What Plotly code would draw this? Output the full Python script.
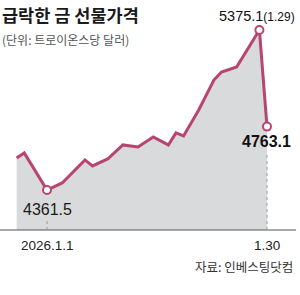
import plotly.graph_objects as go
import pandas as pd

# ---- data ----
dates = ["2025-12-28", "2025-12-29", "2026-01-01", "2026-01-03", "2026-01-06",
         "2026-01-07", "2026-01-09", "2026-01-11", "2026-01-13", "2026-01-15",
         "2026-01-17", "2026-01-18", "2026-01-19", "2026-01-21", "2026-01-23",
         "2026-01-24", "2026-01-26", "2026-01-29", "2026-01-30"]
prices = [4564, 4596, 4361.5, 4406, 4552, 4514, 4558, 4647, 4634, 4697,
          4647, 4723, 4704, 4868, 5058, 5109, 5141, 5375.1, 4763.1]
tick_dates = ["2026-01-01", "2026-01-30"]
tick_texts = ["2026.1.1", "1.30"]
title = "급락한 금 선물가격"
subtitle = "(단위: 트로이온스당 달러)"
source = "자료: 인베스팅닷컴"

W, H = 300, 295
LINE = "#b8446f"
FILL = "#d9dadc"
NUM_FONT = "Liberation Sans, Arial"
KR_FONT = "Noto Sans CJK KR"

# pixel mapping helpers (layout only)
x0 = pd.Timestamp("2026-01-01")
px_per_day = 7.586
x_px0 = 47
def px_to_date(px):
    return x0 + pd.Timedelta(days=(px - x_px0) / px_per_day)
y_min_px, y_max_px = 190, 30
vmin, vmax = min(prices), max(prices)
per_px = (vmax - vmin) / (y_min_px - y_max_px)
def px_to_val(py):
    return vmin + (y_min_px - py) * per_px

base = px_to_val(230)
xr = [px_to_date(0), px_to_date(W)]
yr = [px_to_val(H), px_to_val(0)]

fig = go.Figure()
# grey area
fig.add_trace(go.Scatter(
    x=dates + [dates[-1], dates[0]],
    y=prices + [base, base],
    fill="toself", fillcolor=FILL, line=dict(width=0), mode="lines",
    hoverinfo="skip", showlegend=False))
# line
fig.add_trace(go.Scatter(
    x=dates, y=prices, mode="lines",
    line=dict(color=LINE, width=3), showlegend=False))
# markers for min, max, last
imin = prices.index(vmin)
imax = prices.index(vmax)
ilast = len(prices) - 1
mk = [imin, imax, ilast]
fig.add_trace(go.Scatter(
    x=[dates[i] for i in mk], y=[prices[i] for i in mk], mode="markers",
    marker=dict(size=8, color="white", line=dict(color=LINE, width=2)),
    showlegend=False))

shapes = [
    dict(type="line", xref="paper", yref="y", x0=0, x1=0.987, y0=base, y1=base,
         line=dict(color="#555555", width=1.2)),
    dict(type="line", xref="x", yref="y", x0=dates[imin], x1=dates[imin],
         y0=base, y1=px_to_val(218), line=dict(color="#9a9a9a", width=1, dash="dot")),
    dict(type="line", xref="x", yref="y", x0=dates[ilast], x1=dates[ilast],
         y0=base, y1=px_to_val(152), line=dict(color="#9a9a9a", width=1, dash="dot")),
]

ann = [
    dict(text=f"<b>{title}</b>", xref="paper", yref="paper", x=0, y=1 - 14 / H,
         xanchor="left", yanchor="middle", showarrow=False,
         font=dict(family=KR_FONT, size=17.5, color="#1a1a1a")),
    dict(text=subtitle, xref="paper", yref="paper", x=0, y=1 - 40 / H,
         xanchor="left", yanchor="middle", showarrow=False,
         font=dict(family=KR_FONT, size=12, color="#555555")),
    dict(text=source, xref="paper", yref="paper", x=295 / W, y=1 - 266 / H,
         xanchor="right", yanchor="middle", showarrow=False,
         font=dict(family=KR_FONT, size=12.5, color="#333333")),
    dict(text=f"{vmin:.1f}", x=dates[imin], y=px_to_val(209.5), xref="x", yref="y",
         xanchor="center", yanchor="middle", showarrow=False,
         font=dict(family=NUM_FONT, size=16, color="#1a1a1a")),
    dict(text=f"<b>{prices[ilast]:.1f}</b>", x=dates[ilast], y=px_to_val(141.5),
         xref="x", yref="y", xanchor="center", yanchor="middle", showarrow=False,
         font=dict(family=NUM_FONT, size=16, color="#111111")),
    dict(text=f"{vmax:.1f}<span style='font-size:12px'>(1.29)</span>",
         x=px_to_date(217), y=px_to_val(16), xref="x", yref="y",
         xanchor="left", yanchor="middle", showarrow=False,
         font=dict(family=NUM_FONT, size=14.5, color="#111111")),
]
for d, t in zip(tick_dates, tick_texts):
    ann.append(dict(text=t, x=d, y=px_to_val(245), xref="x", yref="y",
                    xanchor="center", yanchor="middle", showarrow=False,
                    font=dict(family=NUM_FONT, size=13.5, color="#222222")))

fig.update_layout(
    width=W, height=H, margin=dict(l=0, r=0, t=0, b=0),
    paper_bgcolor="white", plot_bgcolor="white",
    xaxis=dict(type="date", range=xr, visible=False, fixedrange=True),
    yaxis=dict(range=yr, visible=False, fixedrange=True),
    shapes=shapes, annotations=ann, showlegend=False,
)
fig.write_html("out.html", config={"displayModeBar": False})
